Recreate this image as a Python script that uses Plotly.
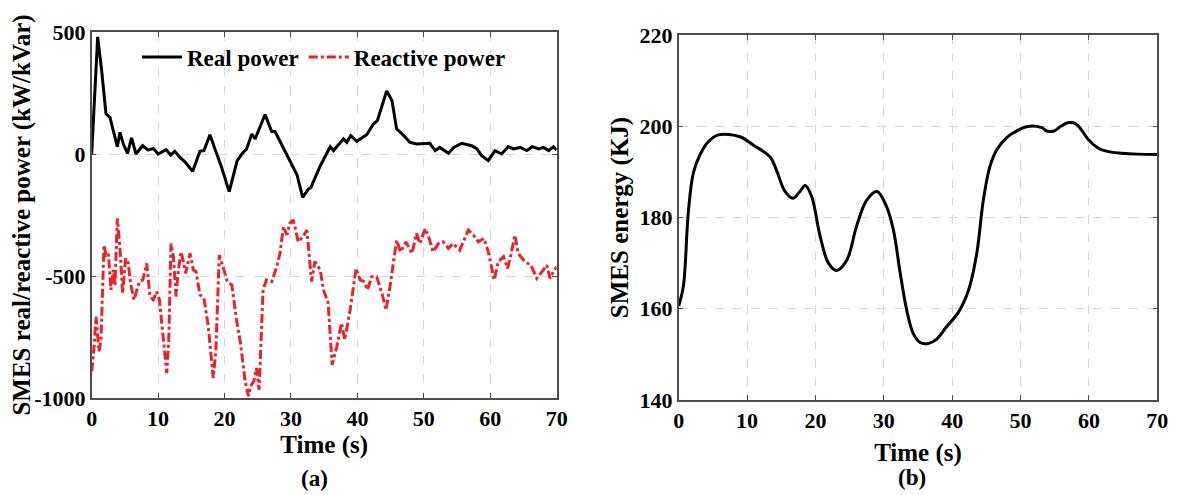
import plotly.graph_objects as go

# ---- Data ----
t_real = [0, 0.9, 1.5, 2.15, 2.75, 3.2, 3.86, 4.26, 4.76, 5.4, 6.0, 6.67, 7.67, 8.5, 9.28, 10.0,
          11.2, 11.9, 12.5, 13.3, 14.1, 15.2, 16.3, 16.9, 17.8, 18.56, 19.56, 20.7, 21.9, 22.8,
          23.3, 24.1, 24.6, 26.1, 27.1, 27.6, 28.8, 30.1, 30.9, 31.76, 32.6, 33.0, 34.4, 35.9,
          36.4, 37.9, 38.4, 39.0, 39.9, 41.4, 42.4, 43.0, 44.4, 45.2, 45.9, 47.0, 47.9, 48.9,
          50.9, 51.7, 52.4, 53.7, 54.5, 55.7, 57.2, 58.0, 58.7, 59.7, 60.7, 61.7, 62.7, 63.5,
          64.5, 65.5, 66.3, 67.3, 68.0, 68.8, 69.5, 70.0]
p_real = [0, 480, 343, 165, 150, 96, 30, 89, 41, 3, 66, 0, 34, 16, 23, 0,
          18, -4, 11, -14, -34, -71, 11, 14, 79, 20, -55, -154, -27, 7,
          20, 82, 62, 162, 92, 92, 27, -41, -85, -178, -144, -137, -49, 30,
          14, 62, 48, 75, 52, 79, 123, 137, 258, 219, 103, 75, 48, 41,
          44, 14, 27, 3, 27, 44, 34, 21, -7, -27, 14, 0, 30, 21,
          27, 14, 30, 21, 27, 14, 30, 16]

t_reac = [0.01, 0.36, 0.65, 0.9, 1.1, 1.4, 1.85, 2.15, 2.5, 2.9, 3.25, 3.5, 3.86, 4.26, 4.66,
          5.1, 5.5, 5.86, 6.37, 7.17, 7.7, 8.28, 8.78, 9.28, 9.78, 10.2, 10.7, 11.3, 11.6,
          11.94, 12.3, 12.7, 13.05, 13.45, 13.8, 14.15, 14.8, 15.3, 15.7, 16.3, 16.9, 17.55,
          18.3, 18.7, 19.2, 19.7, 20.4, 21.1, 21.8, 22.4, 23.1, 23.6, 23.9, 24.4, 24.8, 25.2,
          25.8, 26.3, 27.1, 27.85, 28.35, 28.85, 29.4, 29.8, 30.35, 31.1, 31.8, 32.4, 33.1,
          33.6, 34.4, 34.9, 35.6, 36.2, 36.9, 37.6, 38.1, 38.9, 39.8, 40.4, 41.0, 41.5, 42.15,
          42.9, 43.7, 44.3, 44.9, 45.9, 46.5, 47.3, 48.2, 48.9, 49.4, 50.2, 50.8, 51.4, 52.2,
          52.9, 53.7, 54.4, 55.4, 56.7, 57.45, 58.2, 59.05, 59.7, 60.6, 61.2, 62.0, 62.6, 63.1,
          63.7, 64.2, 65.2, 66.1, 67.0, 67.8, 68.5, 69.0, 69.5, 70.0]
p_reac = [-891, -789, -666, -761, -809, -761, -373, -414, -407, -557, -475, -537, -264, -387, -571,
          -428, -448, -530, -598, -523, -516, -448, -584, -598, -564, -598, -734, -898, -761,
          -367, -421, -584, -475, -401, -441, -489, -407, -475, -482, -578, -591, -707,
          -918, -802, -414, -455, -523, -537, -680, -775, -932, -993, -952, -932, -877, -966,
          -557, -516, -523, -462, -407, -298, -332, -285, -271, -360, -339, -312, -523,
          -441, -475, -557, -612, -864, -789, -693, -761, -639, -469, -516, -523, -557, -503,
          -503, -571, -639, -544, -353, -401, -360, -407, -325, -367, -305, -346, -401, -367,
          -360, -387, -367, -394, -312, -332, -360, -346, -401, -516, -441, -421, -469, -414,
          -332, -407, -441, -455, -510, -482, -455, -510, -482, -462]

t_energy = [0, 0.68, 1.4, 2.14, 3.1, 4.33, 5.8, 8.97, 10.9, 13.35, 14.3, 15.55, 16.7, 17.74,
            18.5, 19.45, 20.7, 21.9, 23.1, 24.6, 26.0, 27.5, 29.0, 30.4, 31.4, 32.4, 33.35,
            34.3, 35.3, 36.5, 37.7, 39.2, 40.9, 42.4, 43.6, 44.55, 45.5, 46.5, 47.9, 48.9,
            50.9, 53.1, 53.8, 54.8, 56.0, 57.0, 58.0, 58.9, 59.9, 61.9, 70.0]
e_smes = [160.6, 164.8, 180.9, 189.7, 193.7, 196.6, 198.1, 197.7, 195.9, 193.3, 190.4, 185.7,
          184.2, 185.7, 187.0, 184.6, 175.8, 170.0, 168.4, 170.7, 178.0, 183.8, 185.7, 182.4,
          177.3, 167.8, 159.7, 154.6, 152.6, 152.4, 153.3, 156.1, 159.2, 164.1, 172.2, 183.8,
          191.1, 194.8, 197.4, 198.5, 199.9, 199.7, 199.0, 198.9, 200.1, 200.8, 200.6, 199.2,
          197.1, 194.8, 193.8]

x_ticks = [0, 10, 20, 30, 40, 50, 60, 70]
y1_ticks = [-1000, -500, 0, 500]
y1_ticktext = ["-1000", "-500", "0", "500"]
y2_ticks = [140, 160, 180, 200, 220]

FONT = "Liberation Serif"
RED = "#ee2029"
AXIS_COLOR = "#4d4d4d"
GRID_COLOR = "#d6d6d6"

fig = go.Figure()
fig.add_trace(go.Scatter(x=t_real, y=p_real, mode="lines", name="Real power",
                         line=dict(color="black", width=3), xaxis="x", yaxis="y"))
fig.add_trace(go.Scatter(x=t_reac, y=p_reac, mode="lines", name="Reactive power",
                         line=dict(color=RED, width=3, dash="dashdot"), xaxis="x", yaxis="y"))
fig.add_trace(go.Scatter(x=t_energy, y=e_smes, mode="lines", name="SMES energy",
                         line=dict(color="black", width=3, shape="spline", smoothing=1.0),
                         showlegend=False, xaxis="x2", yaxis="y2"))

tickfont = dict(family=FONT, size=22, color="black", weight="bold")
titlefont = dict(family=FONT, size=25, color="black", weight="bold")

common = dict(showline=True, linecolor=AXIS_COLOR, linewidth=1.5, mirror="ticks",
              ticks="inside", ticklen=5, tickcolor=AXIS_COLOR, tickwidth=1,
              showgrid=True, gridcolor=GRID_COLOR, griddash="dash", gridwidth=1,
              zeroline=False, tickfont=tickfont, automargin=False)

fig.update_layout(
    width=1177, height=495,
    margin=dict(l=0, r=0, t=0, b=0, autoexpand=False),
    paper_bgcolor="white", plot_bgcolor="white",
    xaxis=dict(domain=[0.0711, 0.4662], range=[0, 70], tickvals=x_ticks, anchor="y",
               title=dict(text="Time (s)", font=titlefont, standoff=0), **common),
    yaxis=dict(domain=[0.2121, 0.9515], range=[-1000, 500], tickvals=y1_ticks,
               ticktext=y1_ticktext, anchor="x",
               title=dict(text="SMES real/reactive power (kW/kVar)", font=titlefont, standoff=0),
               **common),
    xaxis2=dict(domain=[0.5698, 0.9765], range=[0, 70], tickvals=x_ticks, anchor="y2",
                title=dict(text="Time (s)", font=titlefont, standoff=11), **common),
    yaxis2=dict(domain=[0.2081, 0.9455], range=[140, 220], tickvals=y2_ticks, anchor="x2",
                title=dict(text="SMES energy (KJ)", font=titlefont, standoff=4), **common),
    legend=dict(orientation="h", x=0.1096, y=0.901, xanchor="left", yanchor="middle",
                bgcolor="rgba(0,0,0,0)", font=dict(family=FONT, size=23, color="black", weight="bold"),
                itemwidth=40, tracegroupgap=0),
    annotations=[
        dict(text="(a)", x=0.2608, y=0.0505, xref="paper", yref="paper", showarrow=False,
             xanchor="center", yanchor="middle",
             font=dict(family=FONT, size=23, color="black", weight="bold")),
        dict(text="(b)", x=0.768, y=0.0525, xref="paper", yref="paper", showarrow=False,
             xanchor="center", yanchor="middle",
             font=dict(family=FONT, size=23, color="black", weight="bold")),
    ],
)

fig.write_html("out.html")
